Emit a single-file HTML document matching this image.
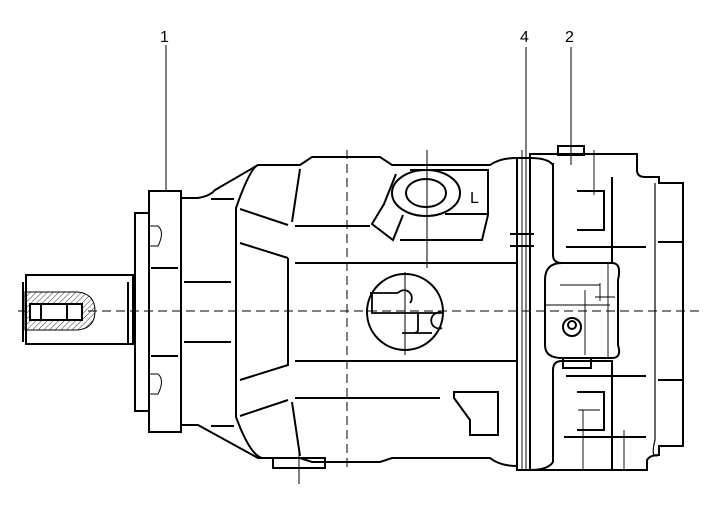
<!DOCTYPE html>
<html><head><meta charset="utf-8"><style>
html,body{margin:0;padding:0;background:#fff;width:707px;height:508px;overflow:hidden}
svg{display:block}
text{font-family:"Liberation Sans",sans-serif;font-size:16px;fill:#000}
</style></head><body>
<svg width="707" height="508" viewBox="0 0 707 508" xmlns="http://www.w3.org/2000/svg">
<defs>
<pattern id="h" width="4" height="4" patternUnits="userSpaceOnUse" patternTransform="rotate(45)">
<line x1="0" y1="0" x2="0" y2="4" stroke="#000" stroke-width="0.8"/></pattern>
</defs>
<g fill="none" stroke="#000" stroke-width="1">
<line x1="18" y1="311" x2="700" y2="311" stroke-dasharray="9,5"/>
<line x1="347" y1="150" x2="347" y2="470" stroke-dasharray="9,5"/>
<line x1="166" y1="45" x2="166" y2="192"/>
<line x1="526" y1="47" x2="526" y2="470"/>
<line x1="571" y1="47" x2="571" y2="165"/>
<line x1="427" y1="150" x2="427" y2="268"/>
<line x1="405" y1="272" x2="405" y2="355"/>
<line x1="299" y1="445" x2="299" y2="484"/>
</g>
<g fill="none" stroke="#000" stroke-width="2">
<path d="M26,275 H133 V344 H26 Z"/>
<line x1="23" y1="282" x2="23" y2="342"/>
<line x1="128" y1="282" x2="128" y2="344"/>
<path d="M25,292 H78 Q95,294 95,311 Q95,328 78,330 H25 Z" fill="url(#h)" stroke-width="1"/>
<rect x="30" y="304" width="52" height="16" fill="#fff"/>
<line x1="41" y1="304" x2="41" y2="320"/>
<line x1="67" y1="304" x2="67" y2="320"/>
<rect x="135" y="213" width="14" height="198"/>
<rect x="149" y="191" width="32" height="241"/>
<path d="M149,226 H158 Q165,232 158,246 H149 M149,374 H158 Q165,380 158,394 H149" stroke-width="1"/>
<line x1="151" y1="268" x2="178" y2="268"/>
<line x1="151" y1="356" x2="178" y2="356"/>
<path d="M181,198 H198 Q210,196 215,190 L258,165 H300 L312,157 H380 L392,165 H490 Q500,158 517,158"/>
<path d="M181,425 H198 L258,458 H300 L312,462 H380 L392,458 H490 Q500,466 517,466"/>
<path d="M258,165 Q250,168 236,208 V417 Q250,455 262,458"/>
<line x1="211" y1="199" x2="234" y2="199"/>
<line x1="211" y1="426" x2="234" y2="426"/>
<line x1="184" y1="282" x2="231" y2="282"/>
<line x1="184" y1="342" x2="231" y2="342"/>
<line x1="240" y1="209" x2="288" y2="225"/>
<line x1="240" y1="243" x2="288" y2="258"/>
<line x1="240" y1="380" x2="288" y2="365"/>
<line x1="240" y1="416" x2="288" y2="400"/>
<line x1="288" y1="258" x2="288" y2="366"/>
<line x1="300" y1="169" x2="292" y2="222"/>
<line x1="292" y1="402" x2="300" y2="456"/>
<line x1="295" y1="226" x2="370" y2="226"/>
<line x1="295" y1="263" x2="517" y2="263"/>
<line x1="295" y1="361" x2="517" y2="361"/>
<line x1="295" y1="398" x2="440" y2="398"/>
<rect x="273" y="458" width="52" height="10"/>
<ellipse cx="426" cy="193" rx="34" ry="23"/>
<ellipse cx="426" cy="193" rx="20" ry="14"/>
<path d="M396,174 L384,204 L372,224 L393,240 L403,215 M445,214 H488 V170 H410 M488,215 L482,240 H400"/>
<circle cx="405" cy="312" r="38"/>
<path d="M370,293 H398 M372,293 V313 H441 M418,313 V330 Q418,333 413,333 H402 M413,333 H432 M398,293 A7,7 0 1,1 410,303 M442,313 A8,8 0 1,0 442,328" stroke-width="1.8"/>
<path d="M454,392 H498 V435 H470 V420 L454,398 Z"/>
<rect x="517" y="158" width="13" height="312"/>
<path d="M530,157 V154 H637 V170 Q637,177 645,177 H659 V183 H683 V446 H659 V455 Q650,455 647,460 V470 H517"/>
<path d="M530,158 Q548,158 553,165 V255 Q553,263 562,263 H612 V177 M553,163 V250"/>
<path d="M530,470 Q548,470 553,462 V370 Q553,361 562,361 H612 V470"/>
<path d="M562,263 Q545,263 545,280 V345 Q545,358 562,358 H612 Q622,358 618,345 V280 Q622,263 612,263"/>
<path d="M577,191 H604 V230 H577 M577,392 H604 V430 H577"/>
<path d="M655,183 V440 Q650,460 659,455" stroke-width="1.2"/>
<line x1="566" y1="247" x2="646" y2="247"/>
<line x1="566" y1="376" x2="646" y2="376"/>
<line x1="564" y1="437" x2="646" y2="437"/>
<line x1="658" y1="242" x2="683" y2="242"/>
<line x1="658" y1="380" x2="683" y2="380"/>
<line x1="510" y1="234" x2="534" y2="234"/>
<line x1="510" y1="246" x2="534" y2="246"/>
<circle cx="572" cy="327" r="9"/>
<circle cx="572" cy="325" r="4"/>
<rect x="558" y="146" width="26" height="9"/>
<path d="M563,358 V368 H591 V358"/>
</g>
<g fill="none" stroke="#000" stroke-width="0.9">
<line x1="522" y1="150" x2="522" y2="470"/>
<line x1="594" y1="150" x2="594" y2="195"/>
<line x1="608" y1="262" x2="608" y2="358"/>
<line x1="560" y1="285" x2="600" y2="285"/>
<line x1="595" y1="297" x2="615" y2="297"/>
<line x1="600" y1="283" x2="600" y2="301"/>
<line x1="585" y1="290" x2="585" y2="355"/>
<line x1="545" y1="305" x2="610" y2="305"/>
<line x1="583" y1="410" x2="583" y2="470"/>
<line x1="624" y1="430" x2="624" y2="470"/>
<line x1="578" y1="410" x2="600" y2="410"/>
</g>
<text x="160" y="42">1</text>
<text x="520" y="42">4</text>
<text x="565" y="42">2</text>
<text x="470" y="203" font-size="18">L</text>
</svg>
</body></html>
